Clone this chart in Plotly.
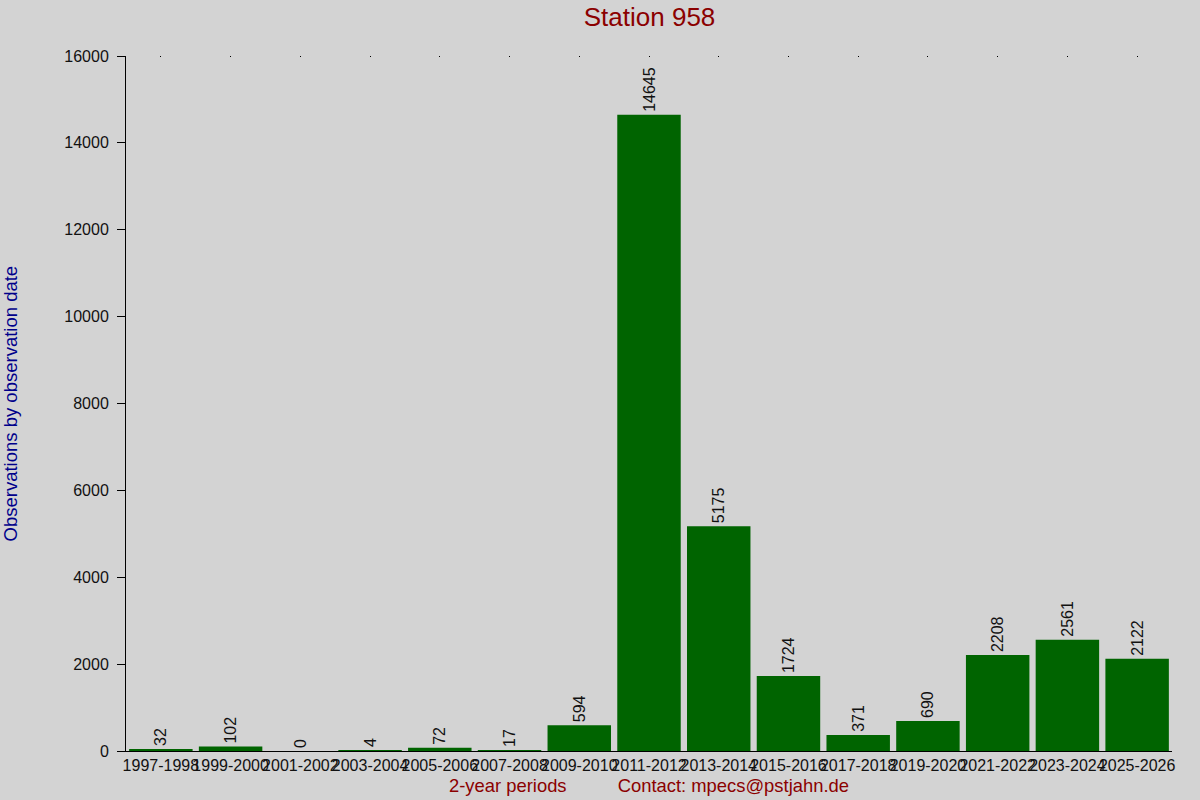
import plotly.graph_objects as go

periods = [
    "1997-1998", "1999-2000", "2001-2002", "2003-2004", "2005-2006",
    "2007-2008", "2009-2010", "2011-2012", "2013-2014", "2015-2016",
    "2017-2018", "2019-2020", "2021-2022", "2023-2024", "2025-2026",
]
observations = [32, 102, 0, 4, 72, 17, 594, 14645, 5175, 1724, 371, 690, 2208, 2561, 2122]
y_ticks = [0, 2000, 4000, 6000, 8000, 10000, 12000, 14000, 16000]

font_name = "Liberation Sans, Arial, sans-serif"

fig = go.Figure()
fig.add_trace(go.Bar(
    x=periods,
    y=observations,
    marker=dict(color="#006400", line=dict(width=0)),
    text=[str(v) for v in observations],
    textposition="outside",
    textangle=-90,
    textfont=dict(family=font_name, size=16, color="#111111"),
    cliponaxis=False,
    showlegend=False,
))
# empty trace, only so the top axis draws its small tick dots
fig.add_trace(go.Scatter(
    x=periods,
    y=[None] * len(periods),
    xaxis="x2",
    mode="markers",
    showlegend=False,
    hoverinfo="skip",
))

fig.update_layout(
    width=1200,
    height=800,
    paper_bgcolor="#D3D3D3",
    plot_bgcolor="#D3D3D3",
    bargap=0.09,
    margin=dict(l=126, r=28, t=56, b=49),
    font=dict(family=font_name, size=16, color="#111111"),
    title=dict(
        text="Station 958",
        x=0.5413, xanchor="center",
        y=0.979, yanchor="middle",
        font=dict(size=26, color="#8B0000"),
    ),
    xaxis=dict(
        type="category",
        range=[-0.5, 14.5],
        tickangle=0,
        showline=True,
        linecolor="black",
        linewidth=1,
        ticks="",
        showgrid=False,
        tickfont=dict(size=16),
        title=dict(
            text="2-year periods" + "\u00a0" * 10 + "Contact: mpecs@pstjahn.de",
            font=dict(size=18.4, color="#8B0000"),
            standoff=5,
        ),
        automargin=False,
    ),
    xaxis2=dict(
        type="category",
        range=[-0.5, 14.5],
        overlaying="x",
        side="top",
        showline=False,
        showgrid=False,
        showticklabels=False,
        ticks="inside",
        ticklen=1,
        tickcolor="black",
    ),
    yaxis=dict(
        range=[0, 16000],
        tickvals=y_ticks,
        tickformat="d",
        showline=True,
        linecolor="black",
        linewidth=1,
        ticks="outside",
        ticklen=8,
        tickcolor="black",
        ticklabelstandoff=5,
        showgrid=False,
        zeroline=False,
        automargin=False,
    ),
    annotations=[dict(
        text="Observations by observation date",
        xref="paper", yref="paper",
        x=-0.110, y=0.5,
        xanchor="center", yanchor="middle",
        textangle=-90,
        showarrow=False,
        font=dict(size=18.5, color="#00008B"),
    )],
)

fig.write_html(
    "out.html",
    config={"displayModeBar": False},
    post_script="document.body.style.margin='0';",
)
